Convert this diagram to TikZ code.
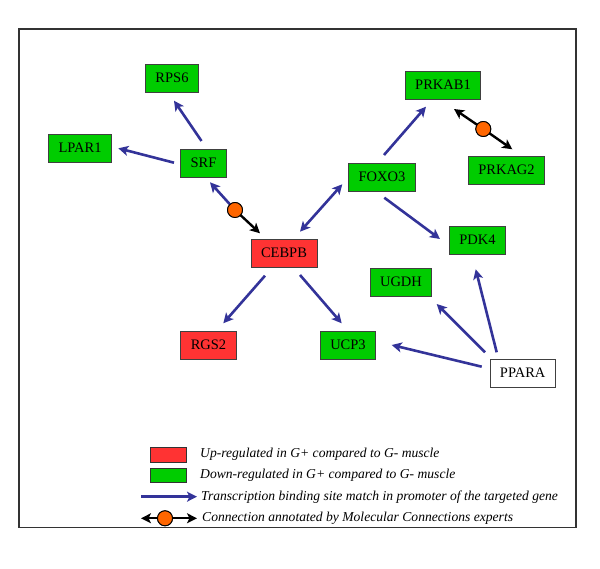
\documentclass[tikz,border=0pt]{standalone}
\usepackage{fontspec}
\setmainfont{Liberation Serif}
\usetikzlibrary{arrows.meta}
\definecolor{upred}{HTML}{FF3333}
\definecolor{downgreen}{HTML}{00CC00}
\definecolor{tfblue}{HTML}{333399}
\definecolor{dotorange}{HTML}{FF6600}
\begin{document}
\begin{tikzpicture}[x=1pt,y=1pt,
  gene/.style={draw=black!75,line width=0.9pt,minimum height=28pt,inner xsep=10pt,inner ysep=0pt,font=\fontsize{14.5}{16}\selectfont,text=black},
  up/.style={gene,fill=upred},
  down/.style={gene,fill=downgreen},
  plain/.style={gene,fill=white},
  tb/.style={draw=tfblue,line width=2.6pt,-{Stealth[length=10pt,width=10pt,inset=2.5pt]}},
  tbboth/.style={draw=tfblue,line width=2.6pt,{Stealth[length=10pt,width=10pt,inset=2.5pt]}-{Stealth[length=10pt,width=10pt,inset=2.5pt]}},
  mc/.style={draw=black,line width=2.4pt,-{Stealth[length=10pt,width=10pt,inset=2.5pt]}},
  dot/.style={circle,draw=black,line width=0.9pt,fill=dotorange,minimum size=15pt,inner sep=0pt},
  legtext/.style={anchor=west,font=\fontsize{13.6}{16}\selectfont\itshape,inner sep=0pt},
  legbox/.style={draw=black!80,line width=0.9pt,minimum width=36pt,minimum height=14.5pt,inner sep=0pt}]
\useasboundingbox (0,0) rectangle (600,569);
\draw[black!80,line width=1.2pt] (19,41.5) rectangle (576,540);

% genes
\node[down] (rps6) at (172,491) {RPS6};
\node[down] (lpar1) at (80,421) {LPAR1};
\node[down] (srf) at (203.5,406) {SRF};
\node[up] (cebpb) at (284,316) {CEBPB};
\node[down] (prkab1) at (443,484) {PRKAB1};
\node[down] (prkag2) at (506.5,399) {PRKAG2};
\node[down] (foxo3) at (382,392) {FOXO3};
\node[down] (pdk4) at (477.5,329) {PDK4};
\node[down] (ugdh) at (401,287) {UGDH};
\node[up] (rgs2) at (208.5,224) {RGS2};
\node[down] (ucp3) at (348,224) {UCP3};
\node[plain] (ppara) at (522.7,196) {PPARA};

% transcription binding arrows
\draw[tb] ([shift={(-2,22)}]srf.center) -- ([shift={(2,-22.7)}]rps6.center);
\draw[tb] ([shift={(-29.5,0.3)}]srf.center) -- ([shift={(38.3,-0.3)}]lpar1.center);
\draw[tbboth] ([shift={(16,21.3)}]cebpb.center) -- ([shift={(-39.7,-7.3)}]foxo3.center);
\draw[tb] ([shift={(2,22)}]foxo3.center) -- ([shift={(-17,-21.7)}]prkab1.center);
\draw[tb] ([shift={(2.3,-20.7)}]foxo3.center) -- ([shift={(-37.5,1)}]pdk4.center);
\draw[tb] ([shift={(-19,-22.7)}]cebpb.center) -- ([shift={(14.8,21.7)}]rgs2.center);
\draw[tb] ([shift={(16,-22)}]cebpb.center) -- ([shift={(-6.3,21.7)}]ucp3.center);
\draw[tb] ([shift={(-26,20.7)}]ppara.center) -- ([shift={(-1.8,-29.3)}]pdk4.center);
\draw[tb] ([shift={(-37.7,20.7)}]ppara.center) -- ([shift={(35.7,-22)}]ugdh.center);
\draw[tb] ([shift={(-41,6.3)}]ppara.center) -- ([shift={(43.7,0)}]ucp3.center);

% molecular connections
\node[dot] (d1) at (235,359) {};
\draw[tb] (d1.center) -- ([shift={(6.5,-19.3)}]srf.center);
\draw[mc] (d1.center) -- ([shift={(-24,19.7)}]cebpb.center);
\node[dot] (d1) at (235,359) {};
\node[dot] (d2) at (483.3,440) {};
\draw[mc] (d2.center) -- ([shift={(11,-24)}]prkab1.center);
\draw[mc] (d2.center) -- ([shift={(5.8,20.7)}]prkag2.center);
\node[dot] (d2) at (483.3,440) {};

% legend
\node[legbox,fill=upred] (lup) at (168,114) {};
\node[legbox,fill=downgreen] (ldown) at (168,93.5) {};
\coordinate (lb1) at (141,72.3);
\coordinate (lb2) at (197,72.3);
\draw[tb] (lb1) -- (lb2);
\node[dot] (ld) at (165,50.7) {};
\coordinate (lm1) at (141,50.7);
\coordinate (lm2) at (197,50.7);
\draw[mc] (ld.center) -- (lm1);
\draw[mc] (ld.center) -- (lm2);
\node[dot] (ld) at (165,50.7) {};
\node[legtext] (t1) at (200,115) {Up-regulated in G+ compared to G- muscle};
\node[legtext] (t2) at (200,94) {Down-regulated in G+ compared to G- muscle};
\node[legtext] (t3) at (201,72.3) {Transcription binding site match in promoter of the targeted gene};
\node[legtext] (t4) at (202,50.7) {Connection annotated by Molecular Connections experts};
\end{tikzpicture}
\end{document}
